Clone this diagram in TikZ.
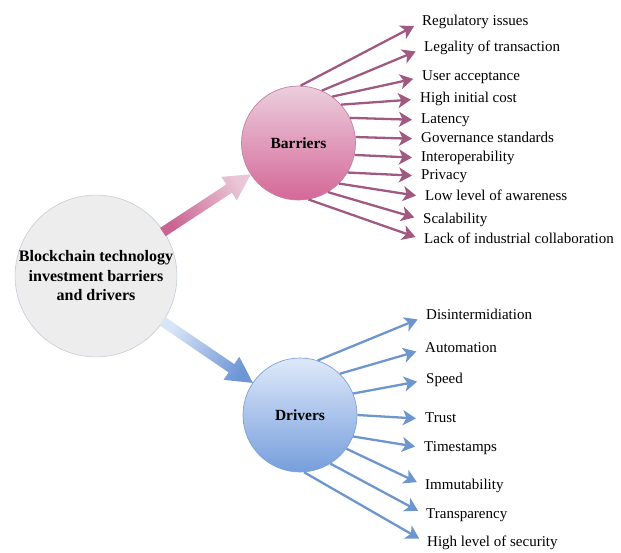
\documentclass[tikz,border=0pt]{standalone}
\usepackage{fontspec}
\setmainfont{Liberation Serif}
\usetikzlibrary{arrows.meta,positioning,calc}

\definecolor{hubfill}{RGB}{237,237,237}
\definecolor{hubedge}{RGB}{196,204,216}
\definecolor{bartop}{RGB}{236,206,221}
\definecolor{barbot}{RGB}{212,104,152}
\definecolor{baredge}{RGB}{196,128,166}
\definecolor{barline}{RGB}{160,90,130}
\definecolor{barpale}{RGB}{234,198,215}
\definecolor{bardeep}{RGB}{202,100,146}
\definecolor{drvtop}{RGB}{222,233,250}
\definecolor{drvbot}{RGB}{118,158,220}
\definecolor{drvedge}{RGB}{128,160,212}
\definecolor{drvline}{RGB}{110,150,206}
\definecolor{drvpale}{RGB}{216,229,247}
\definecolor{drvdeep}{RGB}{110,150,214}

\begin{document}
\begin{tikzpicture}[x=1pt,y=-1pt,
  hub/.style={circle, minimum size=161pt, inner sep=0pt, fill=hubfill, draw=hubedge, line width=0.6pt,
    align=center, font=\fontsize{16}{19.5}\selectfont\bfseries},
  group/.style={circle, minimum size=114pt, line width=0.7pt, font=\fontsize{15.5}{18}\selectfont\bfseries},
  item/.style={anchor=west, inner sep=0pt, text height=10pt, text depth=3pt, font=\fontsize{15}{18}\selectfont},
  barrow/.style={draw=barline, line width=2.3pt, -{Stealth[length=13pt,width=15pt,inset=3.5pt]}, shorten >=9pt},
  drarrow/.style={draw=drvline, line width=2.3pt, -{Stealth[length=13pt,width=15pt,inset=3.5pt]}, shorten >=9pt}]
  \useasboundingbox (0,0) rectangle (621,552);

  \node[hub]                                                        (hub) at (96,276)   {Blockchain technology\\investment barriers\\and drivers};
  \node[group, draw=baredge, top color=bartop, bottom color=barbot] (bar) at (298.5,143) {Barriers};
  \node[group, draw=drvedge, top color=drvtop, bottom color=drvbot] (drv) at (300,415)   {Drivers};

  % block arrows from the hub to both groups
  \coordinate (bt) at ($(hub)!80pt!(bar)$);
  \coordinate (bh) at ($(bar)!57pt!(hub)$);
  \coordinate (bn) at ($(bh)!26pt!(bt)$);
  \shade[top color=barpale, bottom color=bardeep, shading angle=-57]
    ($(bt)!5pt!90:(bh)$) -- ($(bn)!5pt!90:(bh)$) -- ($(bn)!14pt!90:(bh)$) -- (bh)
    -- ($(bn)!14pt!-90:(bh)$) -- ($(bn)!5pt!-90:(bh)$) -- ($(bt)!5pt!-90:(bh)$) -- cycle;

  \coordinate (dt) at ($(hub)!80pt!(drv)$);
  \coordinate (dh) at ($(drv)!57pt!(hub)$);
  \coordinate (dn) at ($(dh)!26pt!(dt)$);
  \shade[top color=drvpale, bottom color=drvdeep, shading angle=56]
    ($(dt)!5pt!90:(dh)$) -- ($(dn)!5pt!90:(dh)$) -- ($(dn)!14pt!90:(dh)$) -- (dh)
    -- ($(dn)!14pt!-90:(dh)$) -- ($(dn)!5pt!-90:(dh)$) -- ($(dt)!5pt!-90:(dh)$) -- cycle;

  % barriers
  \node[item] (b1)  at (422,22)  {Regulatory issues};
  \node[item] (b2)  at (424,48)  {Legality of transaction};
  \node[item] (b3)  at (422,77)  {User acceptance};
  \node[item] (b4)  at (420,99)  {High initial cost};
  \node[item] (b5)  at (421,120) {Latency};
  \node[item] (b6)  at (421,139) {Governance standards};
  \node[item] (b7)  at (421,158) {Interoperability};
  \node[item] (b8)  at (421,176) {Privacy};
  \node[item] (b9)  at (425,197) {Low level of awareness};
  \node[item] (b10) at (423,220) {Scalability};
  \node[item] (b11) at (424,240) {Lack of industrial collaboration};

  \draw[barrow] (bar.88)  -- (b1.west);
  \draw[barrow] (bar.66)  -- (b2.west);
  \draw[barrow] (bar.54)  -- (b3.west);
  \draw[barrow] (bar.42)  -- (b4.west);
  \draw[barrow] (bar.26)  -- (b5.west);
  \draw[barrow] (bar.6)   -- (b6.west);
  \draw[barrow] (bar.-12) -- (b7.west);
  \draw[barrow] (bar.-31) -- (b8.west);
  \draw[barrow] (bar.-45) -- (b9.west);
  \draw[barrow] (bar.-59) -- (b10.west);
  \draw[barrow] (bar.-80) -- (b11.west);

  % drivers
  \node[item] (d1) at (426,316) {Disintermidiation};
  \node[item] (d2) at (425,349) {Automation};
  \node[item] (d3) at (426,380) {Speed};
  \node[item] (d4) at (425,419) {Trust};
  \node[item] (d5) at (424,448) {Timestamps};
  \node[item] (d6) at (425,486) {Immutability};
  \node[item] (d7) at (426,515) {Transparency};
  \node[item] (d8) at (427,543) {High level of security};

  \draw[drarrow] (drv.72)  -- (d1.west);
  \draw[drarrow] (drv.46)  -- (d2.west);
  \draw[drarrow] (drv.22)  -- (d3.west);
  \draw[drarrow] (drv.0)   -- (d4.west);
  \draw[drarrow] (drv.-22) -- (d5.west);
  \draw[drarrow] (drv.-36) -- (d6.west);
  \draw[drarrow] (drv.-58) -- (d7.west);
  \draw[drarrow] (drv.-86) -- (d8.west);
\end{tikzpicture}
\end{document}
